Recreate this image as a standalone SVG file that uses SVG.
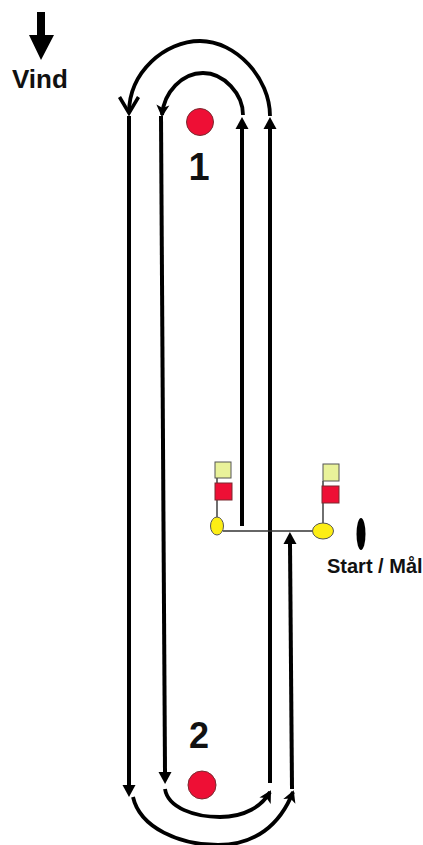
<svg xmlns="http://www.w3.org/2000/svg" width="423" height="845" viewBox="0 0 423 845">
<defs>
<style>
.c{fill:none;stroke:#000;stroke-width:4}
.a{fill:none;stroke:#000;stroke-width:3.8}
.t{font-family:"Liberation Sans",Arial,sans-serif;font-weight:bold;fill:#111}
.pole{stroke:#333;stroke-width:1.4;fill:none}
.red{fill:#ee0f35;stroke:#7a2a30;stroke-width:1}
.pale{fill:#e9f29a;stroke:#555;stroke-width:1}
.yel{fill:#fdee15;stroke:#555;stroke-width:1}
</style>
<marker id="head" markerUnits="userSpaceOnUse" markerWidth="14" markerHeight="14" refX="0" refY="7" orient="auto" overflow="visible"><path d="M0,0.5 L12,7 L0,13.5z" fill="#000"/></marker>
<marker id="notch" markerUnits="userSpaceOnUse" markerWidth="14" markerHeight="14" refX="10" refY="7" orient="auto" overflow="visible"><path d="M0,0.5 L12,7 L0,13.5 L3,7z" fill="#000"/></marker>
<marker id="open" markerUnits="userSpaceOnUse" markerWidth="20" markerHeight="20" refX="16" refY="10" orient="auto" overflow="visible"><path d="M0,0.5 L16,10 L0,19.5" fill="none" stroke="#000" stroke-width="3.5"/></marker>
</defs>
<rect width="423" height="845" fill="#fff"/>
<g id="connectors">
<path class="a" marker-end="url(#open)" d="M270,116 C270,78 236,41 200,41 C165,41 129,72 129,113"/>
<path class="a" marker-end="url(#notch)" d="M243,115 C243,94 224,73 203,73 C182,73 164,92 162,115"/>
<path class="c" marker-end="url(#head)" d="M242,526 L242,129"/>
<path class="c" marker-end="url(#head)" d="M270,783 L270,129"/>
<path class="c" marker-end="url(#head)" d="M292,789 L290,544"/>
<path class="c" marker-end="url(#head)" d="M129,116 L129,785"/>
<path class="c" marker-end="url(#head)" d="M161,116 L165,772"/>
<path class="a" marker-end="url(#notch)" d="M165,789 C168,808 195,817 220,817 C245,817 262,806 270,792"/>
<path class="a" marker-end="url(#notch)" d="M133,797 C140,828 180,845 218,845 C255,845 280,825 293,792"/>
<path class="pole" d="M223,531 L313,531"/>
</g>
<g id="wind">
<path d="M37,12 L45,12 L45,35 L54,35 L41,60 L29,35 L37,35z" fill="#000"/>
<text class="t" x="12" y="88" font-size="26">Vind</text>
</g>
<g id="mark-1">
<circle class="red" cx="200" cy="122" r="13.5"/>
<text class="t" x="199" y="180" font-size="38" text-anchor="middle">1</text>
</g>
<g id="mark-2">
<circle class="red" cx="202" cy="785" r="14"/>
<text class="t" x="199" y="748" font-size="36" text-anchor="middle">2</text>
</g>
<g id="start-left">
<path class="pole" d="M217,478 L217,517"/>
<rect class="pale" x="215" y="462" width="16" height="16"/>
<rect class="red" x="215" y="483" width="17" height="17"/>
<ellipse class="yel" cx="217" cy="526" rx="6.5" ry="9"/>
</g>
<g id="start-right">
<path class="pole" d="M323,481 L323,523"/>
<rect class="pale" x="323" y="464" width="16" height="17"/>
<rect class="red" x="322" y="486" width="17" height="17"/>
<ellipse class="yel" cx="323" cy="531" rx="10.5" ry="8"/>
</g>
<g id="finish">
<ellipse cx="361" cy="534" rx="4.5" ry="16" fill="#000"/>
<text class="t" x="327" y="573" font-size="20">Start / Mål</text>
</g>
</svg>
